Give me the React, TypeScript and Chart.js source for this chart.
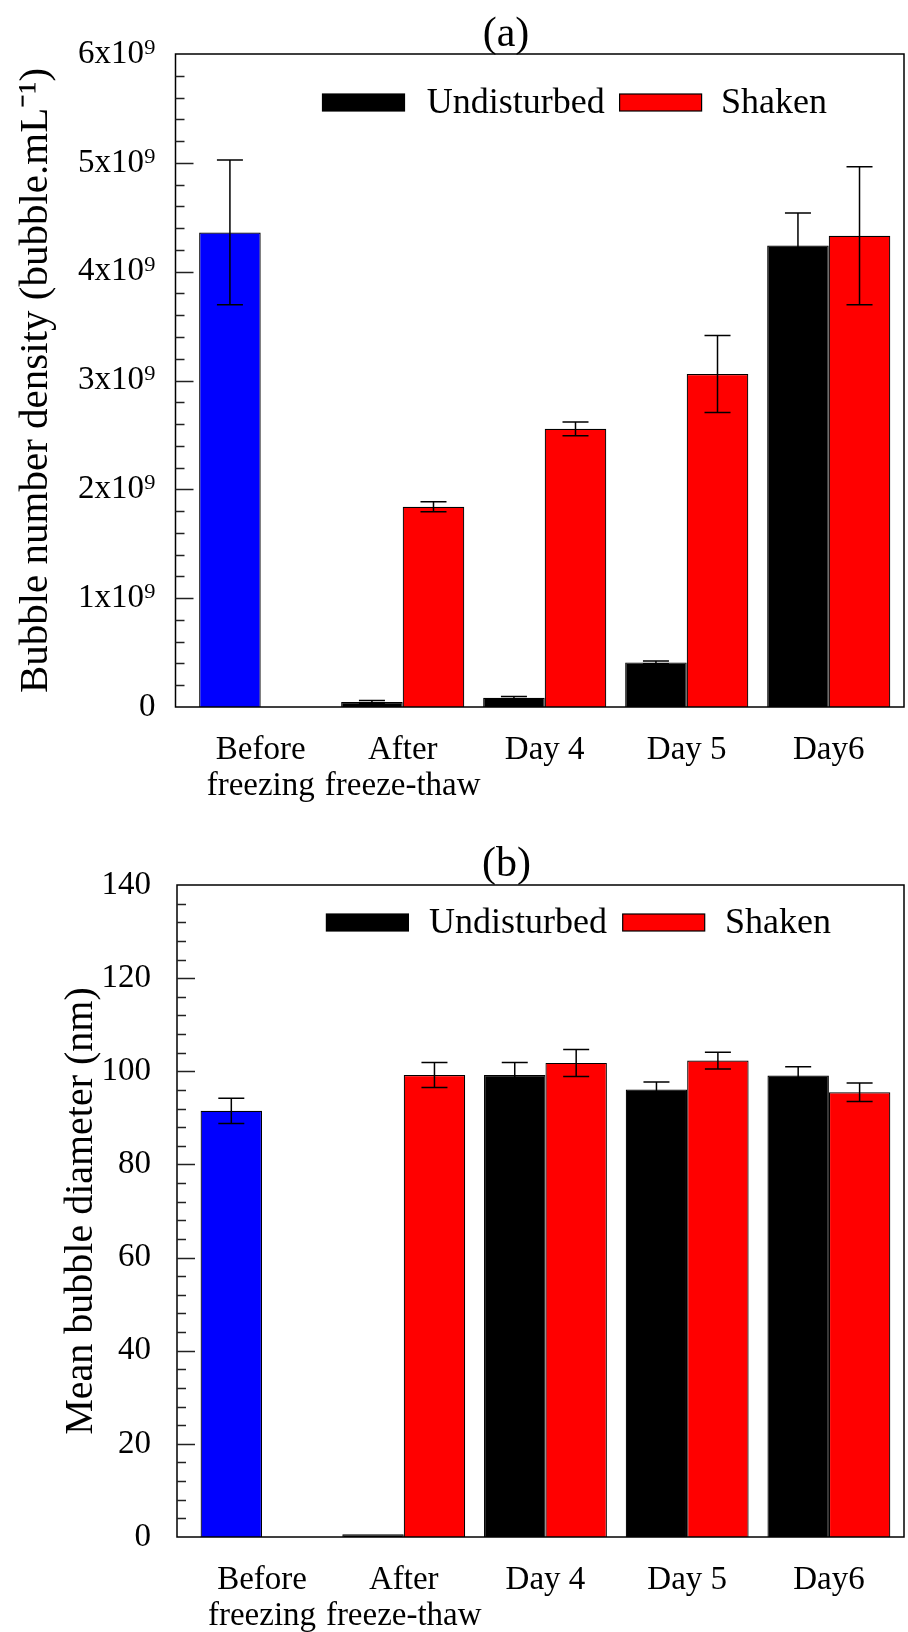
import React, { useEffect, useRef } from 'react';
import { Chart, registerables } from 'chart.js';

Chart.register(...registerables);

const FONT = "'Liberation Serif', 'Times New Roman', Times, serif";

// ---- data ----
const categories: (string | string[])[] = [
  ['Before', 'freezing'],
  ['After', 'freeze-thaw'],
  'Day 4',
  'Day 5',
  'Day6',
];
const seriesNames = ['Undisturbed', 'Shaken'];

// first value of the "Undisturbed" slot is the Before-freezing sample (blue bar)
const undisturbedColors = ['#0000ff', '#000000', '#000000', '#000000', '#000000'];
const shakenColor = '#ff0000';

const densityUndisturbed = [4.36e9, 0.045e9, 0.085e9, 0.41e9, 4.24e9];
const densityUndisturbedErr = [0.665e9, 0.015e9, 0.012e9, 0.012e9, 0.3e9];
const densityShaken = [null, 1.84e9, 2.556e9, 3.06e9, 4.33e9];
const densityShakenErr = [null, 0.047e9, 0.063e9, 0.353e9, 0.635e9];

const diameterUndisturbed = [91.5, 0.6, 99.2, 96.1, 99.1];
const diameterUndisturbedErr = [2.7, 0, 2.7, 1.6, 1.9];
const diameterShaken = [null, 99.2, 101.8, 102.3, 95.5];
const diameterShakenErr = [null, 2.7, 2.9, 1.8, 2.0];

const densityTicks = { max: 6e9, step: 1e9, minor: 0.2e9 };
const diameterTicks = { max: 140, step: 20, minor: 4 };

type PanelCfg = {
  title: string;
  titleX: number;
  titleBaseline: number;
  yTitle: string;
  yTitleSize: number;
  yTitlePad: number;
  tickPad: number;
  yAxisWidth: number;
  xAxisHeight: number;
  padTop: number;
  ticks: { max: number; step: number; minor: number };
  fmt: (v: number) => string;
  undisturbed: (number | null)[];
  undisturbedErr: (number | null)[];
  shaken: (number | null)[];
  shakenErr: (number | null)[];
  legendTop: number;
  legendBoxX: number[];
  legendTextX: number[];
};

const panels: PanelCfg[] = [
  {
    title: '(a)',
    titleX: 506,
    titleBaseline: 46,
    yTitle: 'Bubble number density (bubble.mL\u207B\u00B9)',
    yTitleSize: 41,
    yTitlePad: 11.5,
    tickPad: 12,
    yAxisWidth: 175.5,
    xAxisHeight: 109,
    padTop: 54,
    ticks: densityTicks,
    fmt: (v: number) => (v === 0 ? '0' : `${Math.round(v / 1e9)}x10\u2079`),
    undisturbed: densityUndisturbed,
    undisturbedErr: densityUndisturbedErr,
    shaken: densityShaken,
    shakenErr: densityShakenErr,
    legendTop: 40,
    legendBoxX: [322.5, 619.6],
    legendTextX: [426.7, 721],
  },
  {
    title: '(b)',
    titleX: 506.6,
    titleBaseline: 60,
    yTitle: 'Mean bubble diameter (nm)',
    yTitleSize: 40,
    yTitlePad: 57.5,
    tickPad: 18,
    yAxisWidth: 177,
    xAxisHeight: 95,
    padTop: 69,
    ticks: diameterTicks,
    fmt: (v: number) => String(v),
    undisturbed: diameterUndisturbed,
    undisturbedErr: diameterUndisturbedErr,
    shaken: diameterShaken,
    shakenErr: diameterShakenErr,
    legendTop: 29,
    legendBoxX: [326.4, 622.7],
    legendTextX: [429, 725],
  },
];

function Panel({ cfg }: { cfg: PanelCfg }) {
  const ref = useRef<HTMLCanvasElement>(null);
  useEffect(() => {
    const errorBars = {
      id: 'errorBars',
      afterDatasetsDraw(chart: any) {
        const { ctx } = chart;
        const ys = chart.scales.y;
        chart.data.datasets.forEach((ds: any, di: number) => {
          const meta = chart.getDatasetMeta(di);
          meta.data.forEach((bar: any, i: number) => {
            const v = ds.data[i].y;
            const e = ds.errors[i];
            if (v == null || !e) return;
            const x = bar.x;
            const top = ys.getPixelForValue(v + e);
            const bot = ys.getPixelForValue(v - e);
            ctx.save();
            ctx.strokeStyle = '#000';
            ctx.lineWidth = 1.5;
            ctx.beginPath();
            ctx.moveTo(x, top);
            ctx.lineTo(x, bot);
            ctx.moveTo(x - 13, top);
            ctx.lineTo(x + 13, top);
            ctx.moveTo(x - 13, bot);
            ctx.lineTo(x + 13, bot);
            ctx.stroke();
            ctx.restore();
          });
        });
      },
    };

    const frame = {
      id: 'frame',
      afterDraw(chart: any) {
        const { ctx, chartArea: a } = chart;
        const ys = chart.scales.y;
        ctx.save();
        ctx.strokeStyle = '#000';
        ctx.lineWidth = 1.5;
        ctx.strokeRect(a.left, a.top, a.right - a.left, a.bottom - a.top);
        ctx.lineWidth = 1.3;
        ctx.strokeStyle = '#222';
        const n = Math.round(cfg.ticks.max / cfg.ticks.minor);
        const per = Math.round(cfg.ticks.step / cfg.ticks.minor);
        ctx.beginPath();
        for (let k = 1; k < n; k++) {
          const y = Math.round(ys.getPixelForValue(k * cfg.ticks.minor)) + 0.5;
          const len = k % per === 0 ? 18 : 9;
          ctx.moveTo(a.left, y);
          ctx.lineTo(a.left + len, y);
        }
        ctx.stroke();

        // panel title
        ctx.fillStyle = '#000';
        ctx.font = `42px ${FONT}`;
        ctx.textAlign = 'center';
        ctx.textBaseline = 'alphabetic';
        ctx.fillText(cfg.title, cfg.titleX, cfg.titleBaseline);

        // legend inside the plot
        const boxW = 82;
        const boxH = 17;
        const by = a.top + cfg.legendTop;
        ctx.font = `36px ${FONT}`;
        ctx.textAlign = 'left';
        const colors = ['#000000', shakenColor];
        seriesNames.forEach((name, i) => {
          ctx.fillStyle = colors[i];
          ctx.fillRect(cfg.legendBoxX[i], by, boxW, boxH);
          ctx.lineWidth = 1.2;
          ctx.strokeStyle = '#000';
          ctx.strokeRect(cfg.legendBoxX[i], by, boxW, boxH);
          ctx.fillStyle = '#000';
          ctx.fillText(name, cfg.legendTextX[i], by + boxH + 1.5);
        });
        ctx.restore();
      },
    };

    const chart = new Chart(ref.current as HTMLCanvasElement, {
      type: 'bar',
      data: {
        datasets: [
          {
            label: seriesNames[0],
            data: cfg.undisturbed.map((v, i) => ({ x: i, y: v })),
            backgroundColor: undisturbedColors,
            borderColor: '#000',
            borderWidth: 1.2,
            errors: cfg.undisturbedErr,
          } as any,
          {
            label: seriesNames[1],
            data: cfg.shaken.map((v, i) => ({ x: i, y: v })),
            backgroundColor: shakenColor,
            borderColor: '#000',
            borderWidth: 1.2,
            errors: cfg.shakenErr,
          } as any,
        ],
      },
      options: {
        responsive: false,
        animation: false,
        events: [],
        layout: { padding: { top: cfg.padTop, right: 4, left: 0, bottom: 0 } },
        datasets: { bar: { categoryPercentage: 0.867, barPercentage: 1 } },
        plugins: {
          legend: { display: false },
          tooltip: { enabled: false },
          title: { display: false },
        },
        scales: {
          x: {
            type: 'linear',
            min: -0.6,
            max: 4.53,
            offset: false,
            grid: { display: false },
            border: { display: false },
            ticks: {
              stepSize: 1,
              includeBounds: false,
              autoSkip: false,
              maxRotation: 0,
              minRotation: 0,
              padding: 17,
              color: '#000',
              font: { family: FONT, size: 33, lineHeight: 1.09 },
              callback: (v: any) => categories[Math.round(Number(v))],
            },
            afterFit: (s: any) => {
              s.height = cfg.xAxisHeight;
            },
          },
          y: {
            min: 0,
            max: cfg.ticks.max,
            grid: { display: false },
            border: { display: false },
            ticks: {
              stepSize: cfg.ticks.step,
              padding: cfg.tickPad,
              color: '#000',
              font: { family: FONT, size: 33 },
              callback: (v: any) => cfg.fmt(Number(v)),
            },
            title: {
              display: true,
              text: cfg.yTitle,
              color: '#000',
              font: { family: FONT, size: cfg.yTitleSize, lineHeight: 1.2 },
              padding: { top: cfg.yTitlePad, bottom: 0 },
            },
            afterFit: (s: any) => {
              s.width = cfg.yAxisWidth;
            },
          },
        },
      } as any,
      plugins: [errorBars, frame],
    });
    return () => chart.destroy();
  }, [cfg]);
  return (
    <canvas
      ref={ref}
      width={908}
      height={816}
      style={{ display: 'block', width: 908, height: 816 }}
    />
  );
}

export default function App() {
  return (
    <div style={{ position: 'absolute', left: 0, top: 0, width: 908, height: 1632, background: '#fff' }}>
      {panels.map((p, i) => (
        <Panel key={i} cfg={p} />
      ))}
    </div>
  );
}
